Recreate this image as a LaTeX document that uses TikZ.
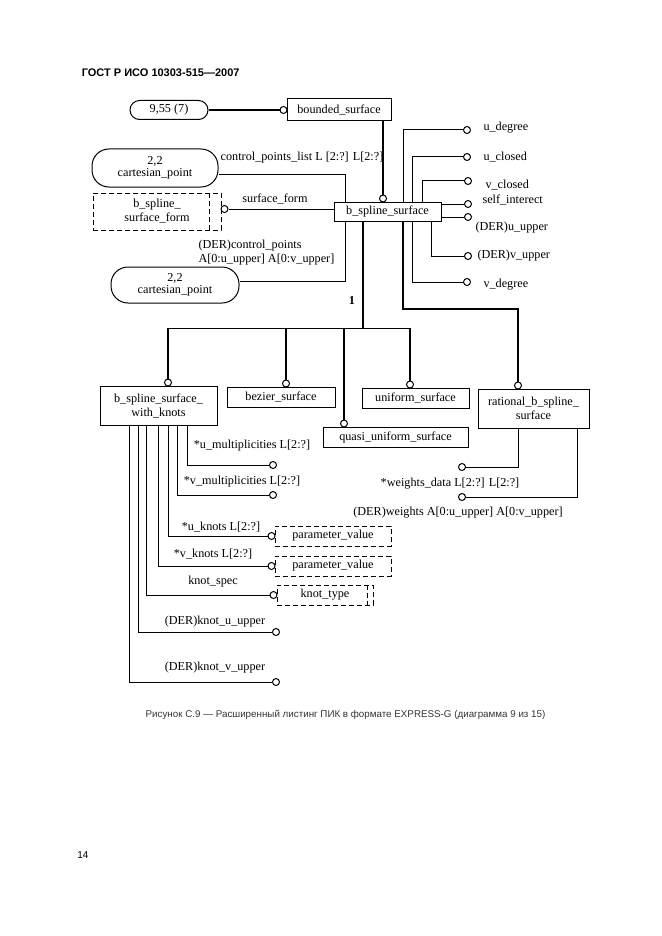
\documentclass[tikz,border=0pt]{standalone}
\usepackage{fontspec}
\setmainfont{Liberation Serif}
\newfontfamily\gostfont{Liberation Sans}
\usetikzlibrary{positioning, calc}

\tikzset{
  entity/.style={draw, rectangle, inner sep=1pt, align=center},
  deftype/.style={draw, rectangle, dash pattern=on 5pt off 3pt, inner sep=1pt, align=center},
  pageref/.style={draw, rectangle, inner sep=1pt, align=center},
  ring/.style={circle, draw, fill=white, inner sep=0pt, minimum size=7pt, line width=1pt},
  attr/.style={inner sep=0pt, align=left},
  subline/.style={line width=1.5pt},
}

\begin{document}
\begin{tikzpicture}[x=1pt, y=-1pt, line width=1pt,
    every node/.style={font=\fontsize{12.2}{14}\selectfont}]
		\useasboundingbox (0,0) rectangle (661,936);

		% Page text
		\node[anchor=west, font=\gostfont\bfseries\fontsize{11}{13}\selectfont] (head) at (78,72.5) {ГОСТ Р ИСО 10303-515—2007};
		\node[font=\gostfont\fontsize{9.8}{11}\selectfont, text=black!80] (caption) at (345.5,715) {Рисунок С.9 — Расширенный листинг ПИК в формате EXPRESS-G (диаграмма 9 из 15)};
		\node[font=\gostfont\fontsize{10}{12}\selectfont] (pageno) at (83,855) {14};

		% Entities
		\node[entity, minimum width=104, minimum height=22] (bndsurf) at (339,110) {bounded\_surface};
		\node[entity, minimum width=107, minimum height=19] (bss) at (387.5,211.5) {b\_spline\_surface};
		\node[entity, minimum width=117, minimum height=39] (bsswk) at (158.5,405.5) {b\_spline\_surface\_\\with\_knots};
		\node[entity, minimum width=108, minimum height=20] (bezier) at (281,397) {bezier\_surface};
		\node[entity, minimum width=107, minimum height=20] (uniform) at (415.5,398) {uniform\_surface};
		\node[entity, minimum width=145, minimum height=20] (quasi) at (395.5,437) {quasi\_uniform\_surface};
		\node[entity, minimum width=111, minimum height=39] (rational) at (533.5,408.5) {rational\_b\_spline\_\\surface};

		% Page references
		\node[pageref, rounded corners=9.5pt, minimum width=78, minimum height=19] (ref955) at (169,110) {9,55 (7)};
		\node[pageref, rounded corners=17pt, minimum width=126, minimum height=38] (cartA) at (155,168) {2,2\\[-2pt]cartesian\_point};
		\node[pageref, rounded corners=17pt, minimum width=128, minimum height=36] (cartB) at (175,285) {2,2\\[-2pt]cartesian\_point};

		% Defined types
		\node[deftype, minimum width=128, minimum height=37] (bsform) at (157,211.5) {b\_spline\_\\surface\_form};
		\draw[dash pattern=on 5pt off 3pt] ([xshift=-12]bsform.north east) -- ([xshift=-12]bsform.south east);
		\node[deftype, minimum width=116, minimum height=20] (parvalA) at (333,536) {parameter\_value};
		\node[deftype, minimum width=116, minimum height=20] (parvalB) at (333,566) {parameter\_value};
		\node[deftype, minimum width=96, minimum height=20] (knottype) at (325,595) {knot\_type};
		\draw[dash pattern=on 5pt off 3pt] ([xshift=-6]knottype.north east) -- ([xshift=-6]knottype.south east);

		% Rings
		\node[ring] (c955) at (283.5,110) {};
		\node[ring] (cbss) at (383,198.5) {};
		\node[ring] (cform) at (224.5,209) {};
		\node[ring] (cudeg) at (467,130) {};
		\node[ring] (cuclo) at (467,157) {};
		\node[ring] (cvclo) at (468,181) {};
		\node[ring] (cself) at (468,204) {};
		\node[ring] (cuup) at (468,217) {};
		\node[ring] (cvup) at (468,256) {};
		\node[ring] (cvdeg) at (467,282) {};
		\node[ring] (cwk) at (168,382.5) {};
		\node[ring] (cbez) at (286,383.5) {};
		\node[ring] (cqua) at (344,423.5) {};
		\node[ring] (cuni) at (410,384.5) {};
		\node[ring] (crat) at (518,385.5) {};
		\node[ring] (cwdata) at (462,467) {};
		\node[ring] (cweights) at (462,497) {};
		\node[ring] (cumult) at (273,465) {};
		\node[ring] (cvmult) at (273,495) {};
		\node[ring] (cuknots) at (271.5,536) {};
		\node[ring] (cvknots) at (271.5,566) {};
		\node[ring] (cspec) at (273.5,595) {};
		\node[ring] (ckuup) at (276,632) {};
		\node[ring] (ckvup) at (276,682) {};

		% Labels
		\node[attr] (lcpl) at (302,158) {control\_points\_list L [2:?] L[2:?]};
		\node[attr] (lform) at (275,199) {surface\_form};
		\node[attr, anchor=west] (lcp) at (198,253) {(DER)control\_points\\A[0:u\_upper] A[0:v\_upper]};
		\node[attr, font=\bfseries\fontsize{12.2}{14}\selectfont] (lone) at (352,300) {1};
		\node[attr, anchor=west] (ludeg) at (483,128) {u\_degree};
		\node[attr, anchor=west] (luclo) at (483,157) {u\_closed};
		\node[attr, anchor=west] (lvclo) at (485,185) {v\_closed};
		\node[attr, anchor=west] (lself) at (482,200) {self\_interect};
		\node[attr, anchor=west] (luup) at (475,228) {(DER)u\_upper};
		\node[attr, anchor=west] (lvup) at (477,256) {(DER)v\_upper};
		\node[attr, anchor=west] (lvdeg) at (483,285) {v\_degree};
		\node[attr] (lwdata) at (450,484) {*weights\_data L[2:?] L[2:?]};
		\node[attr] (lweights) at (458,513) {(DER)weights A[0:u\_upper] A[0:v\_upper]};
		\node[attr] (lumult) at (252,446) {*u\_multiplicities L[2:?]};
		\node[attr] (lvmult) at (242,482) {*v\_multiplicities L[2:?]};
		\node[attr] (luknots) at (221,527) {*u\_knots L[2:?]};
		\node[attr] (lvknots) at (213,554) {*v\_knots L[2:?]};
		\node[attr] (lspec) at (213,582) {knot\_spec};
		\node[attr] (lkuup) at (215,622) {(DER)knot\_u\_upper};
		\node[attr] (lkvup) at (215,668) {(DER)knot\_v\_upper};

		% Supertype links
		\draw[subline] (ref955) -- (c955);
		\draw[subline] (bndsurf.south -| cbss) -- (cbss);

		% b_spline_surface attributes
		\draw ([yshift=-7]cartA.east) -| ([xshift=-42.5]bss.north);
		\draw ([xshift=-42.5]bss.south) |- ([yshift=4]cartB.east);
		\draw (bss.west |- cform) -- (cform);
		\draw ([xshift=15.5]bss.north) |- (cudeg);
		\draw ([xshift=24.5]bss.north) |- (cuclo);
		\draw ([xshift=34.5]bss.north) |- (cvclo);
		\draw (bss.east |- cself) -- (cself);
		\draw (bss.east |- cuup) -- (cuup);
		\draw ([xshift=43.5]bss.south) |- (cvup);
		\draw ([xshift=24.5]bss.south) |- (cvdeg);

		% Subtypes
		\draw[subline] ([xshift=-24.5]bss.south) -- ++(0,107) coordinate (fork);
		\draw[subline] (cwk) |- (fork) -| (cuni);
		\draw[subline] (cbez) -- (cbez |- fork);
		\draw[subline] (cqua) -- (cqua |- fork);
		\draw[subline] ([xshift=15.5]bss.south) -- ++(0,87.5) -| (crat);

		% rational_b_spline_surface attributes
		\draw ([xshift=-15.5]rational.south) |- (cwdata);
		\draw ([xshift=43.5]rational.south) |- (cweights);

		% b_spline_surface_with_knots attributes
		\draw ([xshift=28.5]bsswk.south) |- (cumult);
		\draw ([xshift=19]bsswk.south) |- (cvmult);
		\draw ([xshift=9.5]bsswk.south) |- (cuknots);
		\draw ([xshift=0]bsswk.south) |- (cvknots);
		\draw ([xshift=-12.5]bsswk.south) |- (cspec);
		\draw ([xshift=-20.5]bsswk.south) |- (ckuup);
		\draw ([xshift=-29.5]bsswk.south) |- (ckvup);
	\end{tikzpicture}
\end{document}
